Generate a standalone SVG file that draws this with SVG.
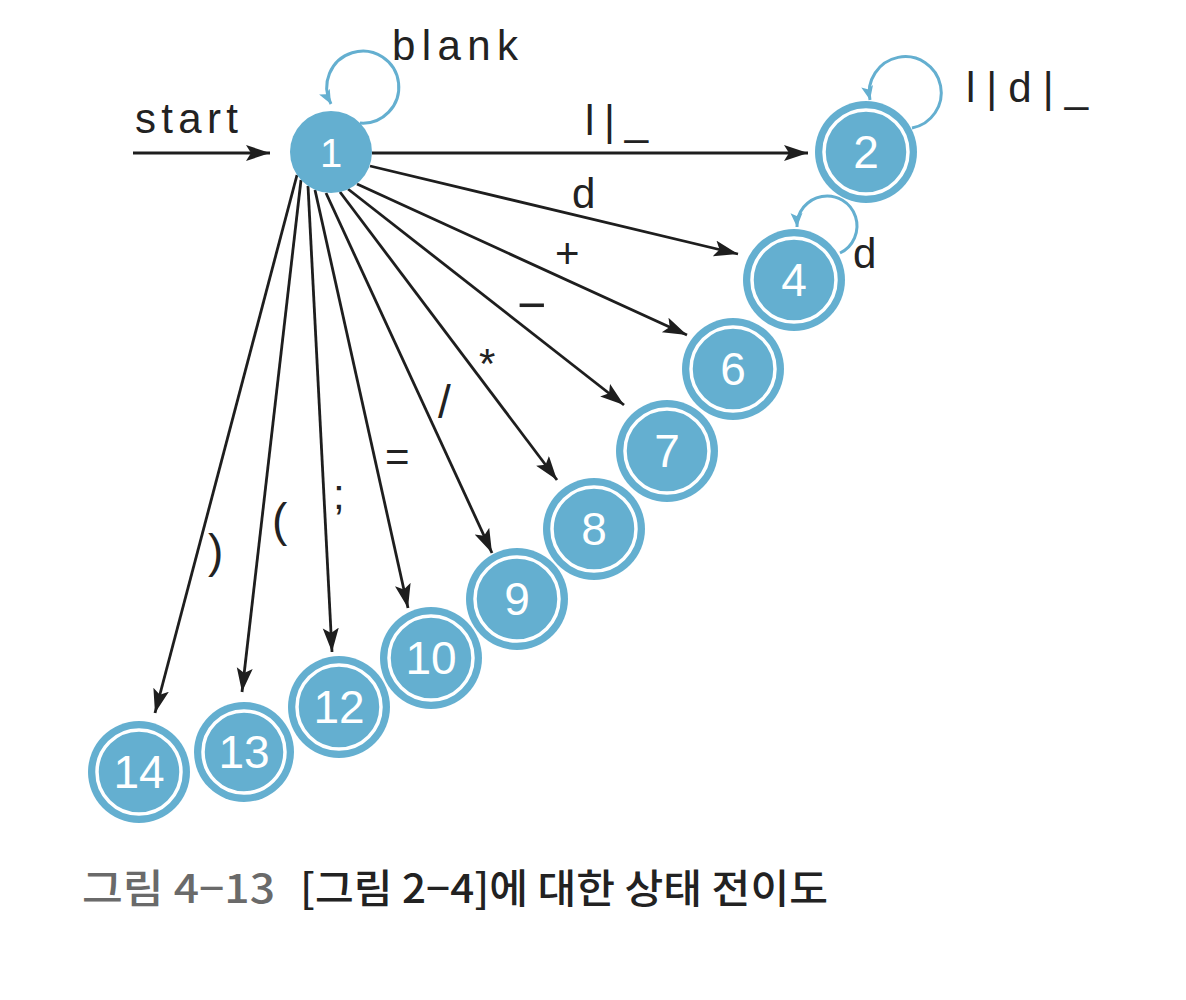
<svg xmlns="http://www.w3.org/2000/svg" width="1186" height="1000" viewBox="0 0 1186 1000">
<style>
.node{fill:#64afd0}
.ring{fill:none;stroke:#ffffff;stroke-width:3.5}
.num{fill:#ffffff;font-family:"Liberation Sans",Arial,sans-serif;font-size:46px;text-anchor:middle}
.lbl{fill:#222222;font-family:"Liberation Sans",Arial,sans-serif;font-size:42px}
.edge{stroke:#1e1e1e;stroke-width:2.8;fill:none;marker-end:url(#ah)}
.loop{stroke:#64afd0;stroke-width:3;fill:none;marker-end:url(#bh)}
.cap{font-family:"Noto Sans CJK KR","Noto Sans",sans-serif;font-size:40px;font-weight:500}
</style>
<defs>
<marker id="ah" markerUnits="userSpaceOnUse" markerWidth="26" markerHeight="18" refX="24" refY="8" orient="auto">
<path d="M0,0 L24,8 L0,16 L5,8 z" fill="#1e1e1e"/>
</marker>
<marker id="bh" markerUnits="userSpaceOnUse" markerWidth="16" markerHeight="14" refX="14" refY="6" orient="auto">
<path d="M0,0 L14,6 L0,12 L3,6 z" fill="#64afd0"/>
</marker>
</defs>
<rect width="1186" height="1000" fill="#ffffff"/>

<g id="connectors">
<line class="edge" x1="133" y1="153" x2="270" y2="153"/>
<path class="loop" d="M360,123 A36,36 0 1 0 331,104"/>
<path class="loop" d="M912,128 A36,36 0 1 0 870,100"/>
<path class="loop" d="M840,253 A30,30 0 1 0 797,227"/>
<line class="edge" x1="372" y1="153" x2="808" y2="153"/>
<line class="edge" x1="370" y1="166" x2="738" y2="254"/>
<line class="edge" x1="357" y1="184" x2="687" y2="335"/>
<line class="edge" x1="348" y1="189" x2="624" y2="405"/>
<line class="edge" x1="340" y1="192" x2="557" y2="480"/>
<line class="edge" x1="326" y1="193" x2="492" y2="553"/>
<line class="edge" x1="315" y1="190" x2="408" y2="608"/>
<line class="edge" x1="308" y1="186" x2="332" y2="652"/>
<line class="edge" x1="301" y1="180" x2="242" y2="692"/>
<line class="edge" x1="297" y1="175" x2="155" y2="713"/>
</g>

<g id="edge-labels">
<text class="lbl" x="135" y="133" textLength="103">start</text>
<text class="lbl" x="392" y="60" textLength="126">blank</text>
<text class="lbl" x="585" y="135" textLength="63">l|_</text>
<text class="lbl" x="966" y="102" textLength="122">l|d|_</text>
<text class="lbl" x="572" y="208">d</text>
<text class="lbl" x="853" y="268">d</text>
<text class="lbl" x="555" y="268">+</text>
<text class="lbl" x="517" y="322" style="font-size:50px">−</text>
<text class="lbl" x="479" y="378">*</text>
<text class="lbl" x="438" y="418" style="font-size:46px">/</text>
<text class="lbl" x="385" y="471">=</text>
<text class="lbl" x="333" y="509">;</text>
<text class="lbl" x="272" y="536" style="font-size:46px">(</text>
<text class="lbl" x="208" y="567" style="font-size:46px">)</text>
</g>

<g id="node1"><circle class="node" cx="331" cy="152" r="41"/><text class="num" x="331" y="167" style="font-size:40px">1</text></g>
<g id="node2"><circle class="node" cx="866" cy="152" r="51"/><circle class="ring" cx="866" cy="152" r="42"/><text class="num" x="866" y="168">2</text></g>
<g id="node4"><circle class="node" cx="794" cy="280" r="51"/><circle class="ring" cx="794" cy="280" r="42"/><text class="num" x="794" y="296">4</text></g>
<g id="node6"><circle class="node" cx="733" cy="369" r="51"/><circle class="ring" cx="733" cy="369" r="42"/><text class="num" x="733" y="385">6</text></g>
<g id="node7"><circle class="node" cx="667" cy="451" r="51"/><circle class="ring" cx="667" cy="451" r="42"/><text class="num" x="667" y="467">7</text></g>
<g id="node8"><circle class="node" cx="594" cy="529" r="51"/><circle class="ring" cx="594" cy="529" r="42"/><text class="num" x="594" y="545">8</text></g>
<g id="node9"><circle class="node" cx="517" cy="599" r="51"/><circle class="ring" cx="517" cy="599" r="42"/><text class="num" x="517" y="615">9</text></g>
<g id="node10"><circle class="node" cx="431" cy="658" r="51"/><circle class="ring" cx="431" cy="658" r="42"/><text class="num" x="431" y="674">10</text></g>
<g id="node12"><circle class="node" cx="339" cy="707" r="51"/><circle class="ring" cx="339" cy="707" r="42"/><text class="num" x="339" y="723">12</text></g>
<g id="node13"><circle class="node" cx="244" cy="752" r="50"/><circle class="ring" cx="244" cy="752" r="41"/><text class="num" x="244" y="768">13</text></g>
<g id="node14"><circle class="node" cx="139" cy="772" r="51"/><circle class="ring" cx="139" cy="772" r="42"/><text class="num" x="139" y="788">14</text></g>

<g id="caption">
<text class="cap" x="82" y="903" fill="#6a6a6a" textLength="193" lengthAdjust="spacingAndGlyphs">그림 4−13</text>
<text class="cap" x="300" y="903" fill="#222222" textLength="528" lengthAdjust="spacingAndGlyphs">[그림 2−4]에 대한 상태 전이도</text>
</g>
</svg>
